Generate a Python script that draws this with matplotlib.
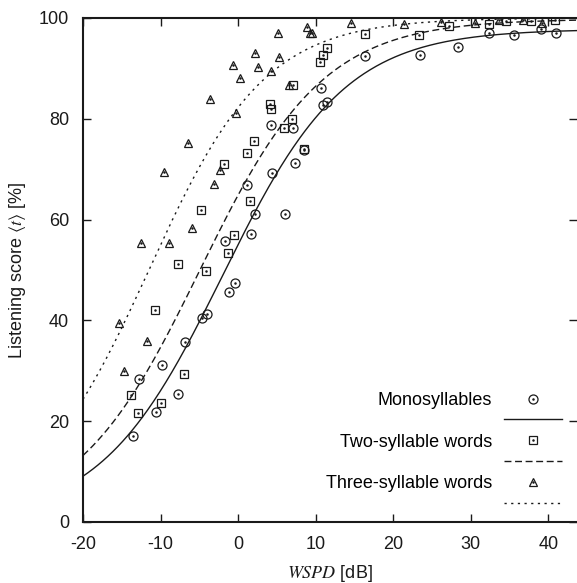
import numpy as np
import matplotlib
matplotlib.use("Agg")
import matplotlib.pyplot as plt
from matplotlib.lines import Line2D
from matplotlib.legend_handler import HandlerTuple

plt.rcParams["font.family"] = ["Liberation Sans", "DejaVu Sans"]
plt.rcParams["mathtext.fontset"] = "stix"
plt.rcParams["axes.unicode_minus"] = False

# Measured listening scores per word type
mono_x = [-13.6, -12.8, -10.6, -9.8, -7.7, -6.9, -4.7, -4.0, -1.7, -1.2, -0.4,
          1.2, 1.6, 2.2, 4.2, 4.4, 6.1, 7.1, 7.3, 8.5, 10.7, 11.0, 11.4,
          16.4, 23.4, 28.4, 32.4, 35.6, 39.0, 41.0]
mono_y = [17.1, 28.4, 21.8, 31.2, 25.4, 35.8, 40.5, 41.3, 55.8, 45.6, 47.5,
          66.9, 57.2, 61.1, 78.8, 69.3, 61.1, 78.1, 71.3, 73.9, 86.1, 82.8, 83.4,
          92.5, 92.6, 94.3, 97.0, 96.6, 97.8, 97.0]

two_x = [-13.8, -12.9, -10.7, -10.0, -7.7, -7.0, -4.8, -4.2, -1.8, -1.3, -0.5,
         1.1, 1.5, 2.1, 4.1, 4.3, 5.9, 7.0, 7.1, 8.5, 10.6, 10.9, 11.4,
         16.3, 23.3, 27.2, 32.3, 34.5, 37.8, 40.9]
two_y = [25.1, 21.7, 42.1, 23.7, 51.1, 29.4, 62.0, 49.9, 71.1, 53.4, 57.0,
         73.3, 63.6, 75.6, 82.9, 81.9, 78.2, 79.9, 86.7, 74.1, 91.3, 92.7, 94.0,
         96.8, 96.6, 98.4, 98.8, 99.4, 99.4, 99.6]

three_x = [-15.4, -14.7, -12.5, -11.7, -9.5, -8.9, -6.5, -6.0, -3.6, -3.1, -2.3,
           -0.6, -0.3, 0.3, 2.2, 2.6, 4.2, 5.2, 5.3, 6.6, 8.9, 9.3, 9.5,
           14.5, 21.4, 26.2, 30.6, 33.6, 36.8, 39.2]
three_y = [39.5, 30.0, 55.3, 36.0, 69.5, 55.3, 75.1, 58.3, 84.0, 67.1, 69.8,
           90.7, 81.2, 88.0, 93.0, 90.3, 89.5, 97.1, 92.3, 86.7, 98.3, 97.0, 97.0,
           99.1, 98.8, 99.3, 99.0, 99.6, 99.6, 99.1]

# Logistic fits: (upper asymptote, midpoint [dB], scale [dB])
mono_fit = (97.8, -2.0, 7.9)
two_fit = (99.8, -4.95, 8.0)
three_fit = (100.0, -11.5, 7.5)

labels = ["Monosyllables", "Two-syllable words", "Three-syllable words"]
x_min, x_max = -20, 43.7

ink = "#1a1a1a"


def logistic(x, params):
    a, x0, s = params
    return a / (1.0 + np.exp(-(x - x0) / s))


fig = plt.figure(figsize=(5.77, 5.83), dpi=100)
ax = fig.add_axes([83 / 577, 1 - 522 / 583, 494 / 577, 504 / 583])

series = [
    (mono_x, mono_y, mono_fit, "o", 6.5, None),
    (two_x, two_y, two_fit, "s", 5.8, (5, 2.6)),
    (three_x, three_y, three_fit, "^", 6.4, (1.6, 3.2)),
]

handles = []
xs = np.linspace(x_min, x_max, 400)
for px, py, fit, mk, ms, dash in series:
    ax.plot(px, py, linestyle="none", marker=mk, ms=ms, mfc="none",
            mec=ink, mew=0.9, zorder=3)
    ax.plot(px, py, linestyle="none", marker=".", ms=1.6, color=ink, zorder=4)
    line, = ax.plot(xs, logistic(xs, fit), color=ink, lw=1.0, zorder=2)
    if dash is not None:
        line.set_dashes(dash)
    mk_h = (Line2D([], [], linestyle="none", marker=mk, ms=ms, mfc="none",
                   mec=ink, mew=0.9),
            Line2D([], [], linestyle="none", marker=".", ms=1.6, color=ink))
    ln_h = Line2D([], [], color=ink, lw=1.0)
    if dash is not None:
        ln_h.set_dashes(dash)
    handles.append((mk_h, ln_h))

# gnuplot-style key: point sample with the title, curve sample on its own row
leg_handles, leg_labels = [], []
for (mk_h, ln_h), lab in zip(handles, labels):
    leg_handles += [mk_h, ln_h]
    leg_labels += [lab, ""]

ax.legend(leg_handles, leg_labels, markerfirst=False, frameon=False,
          loc="lower right", bbox_to_anchor=(0.970, 0.018), borderpad=0,
          borderaxespad=0, handlelength=3.2, handletextpad=0.68,
          labelspacing=0.21, fontsize=13,
          handler_map={tuple: HandlerTuple(ndivide=1)})

ax.set_xlim(x_min, x_max)
ax.set_ylim(0, 100)
ax.set_xticks(np.arange(-20, 41, 10))
ax.set_yticks(np.arange(0, 101, 20))
ax.tick_params(direction="in", length=6, width=1.0, labelsize=13,
               top=True, right=True, colors=ink)
ax.tick_params(axis="x", pad=10)
ax.tick_params(axis="y", pad=10)
ax.spines["right"].set_visible(False)
for side in ["left", "bottom", "top"]:
    ax.spines[side].set_linewidth(1.5)
    ax.spines[side].set_color(ink)

ax.set_xlabel("$WSPD$ [dB]", fontsize=13, labelpad=7, color=ink)
ax.set_ylabel(r"Listening score $\langle t\rangle$ [%]", fontsize=13,
              labelpad=8, color=ink)

fig.savefig("out.png", dpi=100)
